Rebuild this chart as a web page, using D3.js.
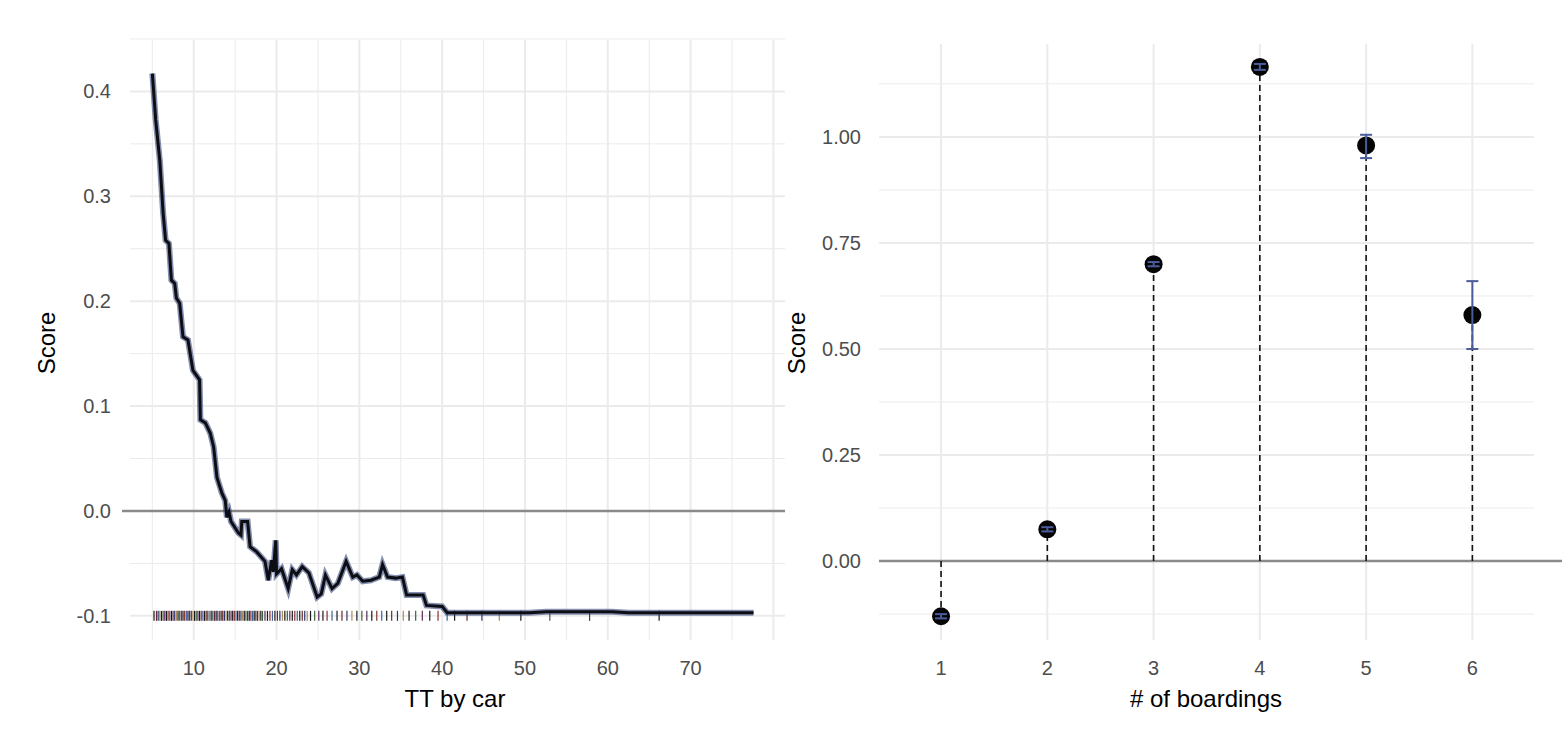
<!DOCTYPE html>
<html>
<head>
<meta charset="utf-8">
<script src="https://cdn.jsdelivr.net/npm/d3@7"></script>
<style>
  body { margin: 0; background: #fff; }
  text { font-family: "Liberation Sans", Arial, sans-serif; }
</style>
</head>
<body>
<div id="chart"></div>
<script>
// left panel: partial dependence of score on TT by car
const ttX = [5.0, 5.4, 5.9, 6.3, 6.6, 7.0, 7.3, 7.7, 7.9, 8.3, 8.7, 9.3, 9.9, 10.7, 10.8, 11.4, 12.0, 12.4, 12.8, 13.4, 13.8, 14.0,
  14.26, 14.5, 15.4, 15.7, 15.8, 16.5, 16.8, 17.6, 18.6, 19.0, 19.4, 19.6, 19.9, 20.0, 20.6, 21.4, 21.9, 22.4, 23.1, 23.9,
  24.9, 25.4, 25.9, 26.7, 27.4, 28.4, 29.2, 29.7, 30.4, 31.4, 32.4, 32.8, 33.4, 34.4, 35.2, 35.7, 37.7, 38.1, 40.0, 40.6,
  50.5, 52.6, 60.5, 62.5, 77.6]
const ttScore = [0.417, 0.373, 0.334, 0.284, 0.258, 0.255, 0.22, 0.217, 0.203, 0.198, 0.166, 0.163, 0.134, 0.125, 0.087, 0.084, 0.074, 0.061, 0.032, 0.017, 0.010, -0.006,
  -0.001, -0.010, -0.021, -0.023, -0.010, -0.010, -0.034, -0.039, -0.048, -0.066, -0.047, -0.058, -0.028, -0.060, -0.055, -0.074, -0.056, -0.061, -0.053, -0.059,
  -0.082, -0.079, -0.061, -0.074, -0.069, -0.048, -0.063, -0.061, -0.067, -0.066, -0.063, -0.051, -0.063, -0.064, -0.063, -0.080, -0.080, -0.090, -0.091, -0.097,
  -0.097, -0.096, -0.096, -0.097, -0.097]
const rugValues = [5.2, 5.5, 5.7, 5.9, 6.1, 6.3, 6.5, 6.7, 6.9, 7.1, 7.3, 7.5, 7.7, 7.9, 8.1, 8.3, 8.5, 8.7, 8.9, 9.1, 9.3, 9.5, 9.7, 9.9,
  10.1, 10.3, 10.5, 10.7, 10.9, 11.1, 11.3, 11.5, 11.7, 11.9, 12.1, 12.3, 12.5, 12.7, 12.9, 13.1, 13.3, 13.5, 13.7, 13.9,
  14.1, 14.3, 14.5, 14.7, 14.9, 15.1, 15.3, 15.5, 15.7, 15.9, 16.1, 16.3, 16.5, 16.7, 16.9, 17.1, 17.3, 17.5, 17.7, 17.9,
  18.1, 18.3, 18.6, 18.9, 19.2, 19.5, 19.8, 20.1, 20.4, 20.7, 21.0, 21.3, 21.6, 21.9, 22.2, 22.5, 22.8, 23.1, 23.4, 23.7,
  24.1, 24.6, 25.1, 25.6, 26.1, 26.7, 27.3, 27.9, 28.5, 29.1, 29.7, 30.3, 30.9, 31.5, 32.1, 32.7, 33.3, 33.9, 34.6, 35.3,
  36.0, 36.8, 37.6, 38.5, 39.5, 40.6, 41.5, 43.0, 44.8, 46.9, 49.5, 53.0, 57.8, 66.2]
const rugColors = ['#1a1a1a', '#6b2a2a', '#2a3570', '#a88a5a', '#1a1a1a', '#3d6040', '#5a2a5a', '#1a1a1a', '#8a3030', '#4060a0']

// right panel: score by number of boardings
const boardings = [1, 2, 3, 4, 5, 6]
const boardScore = [-0.13, 0.075, 0.70, 1.165, 0.98, 0.58]
const boardLow = [-0.135, 0.07, 0.695, 1.158, 0.95, 0.50]
const boardHigh = [-0.125, 0.08, 0.705, 1.172, 1.005, 0.66]

const leftTicksX = [10, 20, 30, 40, 50, 60, 70]
const leftTicksY = [-0.1, 0.0, 0.1, 0.2, 0.3, 0.4]
const rightTicksY = [0.00, 0.25, 0.50, 0.75, 1.00]

const svg = d3.select('#chart').append('svg')
  .attr('width', 1562).attr('height', 743)

const grid = '#ebebeb'
const tickColor = '#4d4d4d'
const fmt1 = d => d3.format('.1f')(d).replace('−', '-')
const fmt2 = d => d3.format('.2f')(d).replace('−', '-')

// ---------- left panel ----------
const xL = d3.scaleLinear().domain([2.3, 81.4]).range([130, 785])
const yL = d3.scaleLinear().domain([-0.123, 0.449]).range([640, 40])
const L = svg.append('g')

// minor grid
L.selectAll('.vminor').data(d3.range(5, 85, 10)).join('line')
  .attr('x1', d => xL(d)).attr('x2', d => xL(d)).attr('y1', 40).attr('y2', 640)
  .attr('stroke', grid).attr('stroke-width', 1)
L.selectAll('.hminor').data(leftTicksY.map(d => d + 0.05)).join('line')
  .attr('x1', 130).attr('x2', 785).attr('y1', d => yL(d)).attr('y2', d => yL(d))
  .attr('stroke', grid).attr('stroke-width', 1)
// major grid
L.selectAll('.vmajor').data(leftTicksX.concat([80])).join('line')
  .attr('x1', d => xL(d)).attr('x2', d => xL(d)).attr('y1', 40).attr('y2', 640)
  .attr('stroke', grid).attr('stroke-width', 2)
L.selectAll('.hmajor').data(leftTicksY).join('line')
  .attr('x1', 130).attr('x2', 785).attr('y1', d => yL(d)).attr('y2', d => yL(d))
  .attr('stroke', grid).attr('stroke-width', 2)

L.append('line').attr('x1', 122).attr('x2', 785).attr('y1', yL(0)).attr('y2', yL(0))
  .attr('stroke', '#8a8a8a').attr('stroke-width', 2.5)

// rug
L.selectAll('.rug').data(rugValues).join('line')
  .attr('x1', d => xL(d)).attr('x2', d => xL(d))
  .attr('y1', yL(-0.1) - 5).attr('y2', yL(-0.1) + 5)
  .attr('stroke', (d, i) => rugColors[i % rugColors.length]).attr('stroke-width', 1.2)

const pts = ttX.map((x, i) => [x, ttScore[i]])
const line = d3.line().x(d => xL(d[0])).y(d => yL(d[1]))
L.append('path').attr('d', line(pts)).attr('fill', 'none')
  .attr('stroke', '#34457a').attr('stroke-opacity', 0.6).attr('stroke-width', 6)
L.append('path').attr('d', line(pts)).attr('fill', 'none')
  .attr('stroke', '#0d0d14').attr('stroke-width', 3)

L.append('g').selectAll('text').data(leftTicksX).join('text')
  .attr('x', d => xL(d)).attr('y', 675).attr('text-anchor', 'middle')
  .attr('font-size', 20).attr('fill', tickColor).text(d => d)
L.append('g').selectAll('text').data(leftTicksY).join('text')
  .attr('x', 111).attr('y', d => yL(d) + 7).attr('text-anchor', 'end')
  .attr('font-size', 20).attr('fill', tickColor).text(fmt1)
L.append('text').attr('x', 455).attr('y', 707).attr('text-anchor', 'middle')
  .attr('font-size', 24).text('TT by car')
L.append('text').attr('transform', 'translate(55,343) rotate(-90)').attr('text-anchor', 'middle')
  .attr('font-size', 24).text('Score')

// ---------- right panel ----------
const xR = d3.scaleLinear().domain([0.416, 6.58]).range([879, 1534])
const yR = d3.scaleLinear().domain([-0.186, 1.219]).range([640, 44])
const R = svg.append('g')

R.selectAll('.hminor').data([-0.125, 0.125, 0.375, 0.625, 0.875, 1.125]).join('line')
  .attr('x1', 879).attr('x2', 1534).attr('y1', d => yR(d)).attr('y2', d => yR(d))
  .attr('stroke', grid).attr('stroke-width', 1)
R.selectAll('.hmajor').data(rightTicksY).join('line')
  .attr('x1', 879).attr('x2', 1534).attr('y1', d => yR(d)).attr('y2', d => yR(d))
  .attr('stroke', grid).attr('stroke-width', 2)
R.selectAll('.vmajor').data(boardings).join('line')
  .attr('x1', d => xR(d)).attr('x2', d => xR(d)).attr('y1', 44).attr('y2', 640)
  .attr('stroke', grid).attr('stroke-width', 2)

R.append('line').attr('x1', 879).attr('x2', 1562).attr('y1', yR(0)).attr('y2', yR(0))
  .attr('stroke', '#8a8a8a').attr('stroke-width', 2.5)

R.selectAll('.stem').data(boardings).join('line')
  .attr('x1', d => xR(d)).attr('x2', d => xR(d))
  .attr('y1', yR(0)).attr('y2', (d, i) => yR(boardScore[i]))
  .attr('stroke', '#111').attr('stroke-width', 1.6).attr('stroke-dasharray', '6,4')

R.selectAll('.pt').data(boardings).join('circle')
  .attr('cx', d => xR(d)).attr('cy', (d, i) => yR(boardScore[i])).attr('r', 9)
  .attr('fill', '#050505')

const eb = R.selectAll('.eb').data(boardings).join('g')
  .attr('stroke', '#4a5c9c').attr('stroke-width', 2)
eb.append('line').attr('x1', d => xR(d)).attr('x2', d => xR(d))
  .attr('y1', (d, i) => yR(boardLow[i])).attr('y2', (d, i) => yR(boardHigh[i]))
eb.append('line').attr('x1', d => xR(d) - 6).attr('x2', d => xR(d) + 6)
  .attr('y1', (d, i) => yR(boardLow[i])).attr('y2', (d, i) => yR(boardLow[i]))
eb.append('line').attr('x1', d => xR(d) - 6).attr('x2', d => xR(d) + 6)
  .attr('y1', (d, i) => yR(boardHigh[i])).attr('y2', (d, i) => yR(boardHigh[i]))

R.append('g').selectAll('text').data(boardings).join('text')
  .attr('x', d => xR(d)).attr('y', 675).attr('text-anchor', 'middle')
  .attr('font-size', 20).attr('fill', tickColor).text(d => d)
R.append('g').selectAll('text').data(rightTicksY).join('text')
  .attr('x', 861).attr('y', d => yR(d) + 7).attr('text-anchor', 'end')
  .attr('font-size', 20).attr('fill', tickColor).text(fmt2)
R.append('text').attr('x', 1206).attr('y', 707).attr('text-anchor', 'middle')
  .attr('font-size', 24).text('# of boardings')
R.append('text').attr('transform', 'translate(805,343) rotate(-90)').attr('text-anchor', 'middle')
  .attr('font-size', 24).text('Score')
</script>
</body>
</html>
